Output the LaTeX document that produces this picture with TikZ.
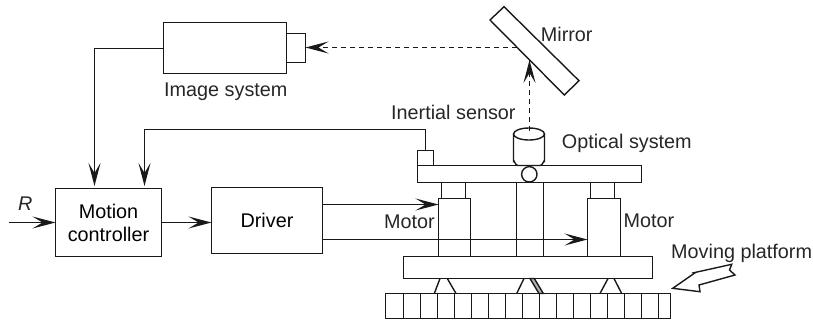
\documentclass[tikz,border=0pt]{standalone}
\usepackage{fontspec}
\setmainfont{Liberation Sans}
\usetikzlibrary{arrows.meta}
\tikzset{
  ln/.style={line width=1.4pt,draw=black!90},
  box/.style={ln,rectangle,inner sep=0pt,outer sep=0pt,anchor=north west,align=center,font=\fontsize{19.8pt}{23pt}\selectfont},
  lbl/.style={inner sep=0pt,anchor=base west,font=\fontsize{19.8pt}{23pt}\selectfont,text=black!85},
  conn/.style={ln,-{Stealth[length=23pt,width=12pt,inset=10pt]}},
  dconn/.style={conn,dash pattern=on 5pt off 4pt}
}
\begin{document}
\begin{tikzpicture}[x=1pt,y=-1pt]
\useasboundingbox (0,0) rectangle (813,325);
% control boxes
\node[box,minimum width=106pt,minimum height=68pt] (mc) at (55.5,188.5) {Motion\\controller};
\node[box,minimum width=111pt,minimum height=66pt] (drv) at (211.5,187.5) {Driver};
% camera
\node[box,minimum width=123pt,minimum height=51pt] (cam) at (163.5,22.5) {};
\node[box,minimum width=19pt,minimum height=29pt] (lens) at (286.5,33.5) {};
\node[lbl] (imgl) at (164,96.7) {Image system};
% mirror
\draw[ln] (490,20) -- (504,6.7) -- (579,80.7) -- (564.3,95) -- cycle;
\coordinate (mirA) at (517,47.5);
\coordinate (mirB) at (529.5,60);
\node[lbl] (mirl) at (540.7,41.7) {Mirror};
% cylinder
\coordinate (optT) at (529.5,131);
\draw[ln,fill=white] (513.5,134) -- (513.5,161) to[out=90,in=180,looseness=1] (517.7,165.5) -- (540.3,165.5) to[out=0,in=90,looseness=1] (544.5,161) -- (544.5,134);
\draw[ln] (529,134) ellipse [x radius=15.5pt,y radius=6pt];
\node[lbl] (optl) at (561.7,148) {Optical system};
% upper platform
\node[box,minimum width=224pt,minimum height=17pt] (top) at (417.5,165.5) {};
\node[box,fill=white,circle,minimum size=15.4pt,anchor=center] (ball) at (529.3,174.3) {};
\node[box,minimum width=16pt,minimum height=15pt] (sens) at (417.5,150.5) {};
\node[lbl] (sensl) at (391,119) {Inertial sensor};
% column
\draw[ln] (516.5,182.5) -- (516.5,256.5) (543.5,182.5) -- (543.5,256.5);
% motors
\node[box,minimum width=24pt,minimum height=16pt] (capL) at (441.5,182.5) {};
\node[box,minimum width=24pt,minimum height=16pt] (capR) at (590.5,182.5) {};
\node[box,minimum width=32pt,minimum height=58pt] (motL) at (438.5,198.5) {};
\node[box,minimum width=33pt,minimum height=58pt] (motR) at (587.5,198.5) {};
\node[lbl] (motLl) at (384,228) {Motor};
\node[lbl] (motRl) at (623.3,227.5) {Motor};
% base
\node[box,minimum width=249pt,minimum height=22pt] (base) at (403.5,256.5) {};
% rail
\node[box,minimum width=285pt,minimum height=25pt] (rail) at (385.5,293.5) {};
\foreach \k in {0,...,15} \draw[ln] (403.5+17*\k,293.5) -- (403.5+17*\k,318.5);
% flexures
\draw[ln] (434.3,293.5) -- (440,278.5) (447.3,278.5) -- (456,293.5);
\draw[ln] (516.7,293.5) -- (524,278.5);
\draw[ln,fill=black!30] (530,278.5) -- (534.3,278.5) -- (543.3,293.5) -- (539,293.5) -- cycle;
\draw[ln] (600,293.5) -- (608,278.5) (614,278.5) -- (621.7,293.5);
% moving platform arrow
\draw[ln] (672.7,288.3) -- (694.3,273.3) -- (693.5,272.8) -- (731.7,264.3) -- (729.5,270) -- (735,275) -- (699,285) -- (700,291.7) -- cycle;
\node[lbl] (movl) at (671,258.5) {Moving platform};
% R
\node[lbl,font=\fontsize{19.8pt}{23pt}\selectfont\itshape] (rl) at (18,210) {R};
\coordinate (rin) at (8.7,222.5);
% connectors
\draw[conn] (rin) -- (rin -| mc.west);
\draw[conn] (mc.east |- 0,222.5) -- (drv.west |- 0,222.5);
\draw[dconn] (mirA) -- (lens.east |- mirA);
\draw[dconn] (optT) -- (mirB);
\draw[conn] (cam.west |- 0,48.5) -| (94.5,186);
\draw[conn] (sens.north -| 425.5,0) |- (144.5,129.5) -- (144.5,186);
\draw[conn] (drv.east |- 0,204.5) -- (motL.west |- 0,204.5);
\draw[conn] (drv.east |- 0,239.5) -- (motR.west |- 0,239.5);
\end{tikzpicture}
\end{document}
